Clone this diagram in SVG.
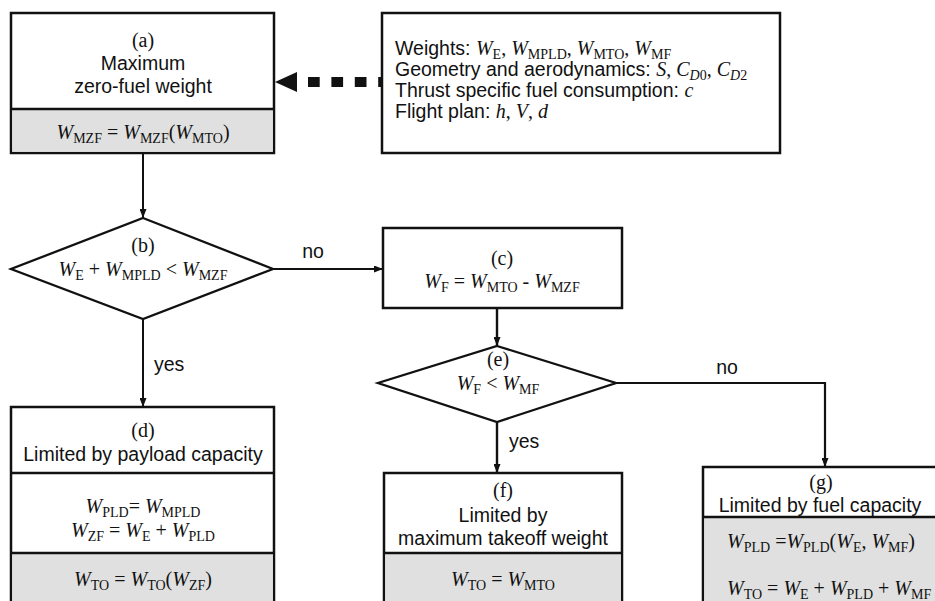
<svg xmlns="http://www.w3.org/2000/svg" width="935" height="601" viewBox="0 0 935 601">
<style>
.t{font-family:"Liberation Sans",Arial,sans-serif;font-size:19.5px;fill:#111}
.m{font-family:"Liberation Serif","Times New Roman",serif;font-size:20px;fill:#111}
.i{font-style:italic}
.s{font-size:14px}
.box{fill:#fff;stroke:#111;stroke-width:2.5}
.gray{fill:#e0e0e0;stroke:none}
.div{stroke:#111;stroke-width:2.5}
.dia{fill:#fff;stroke:#111;stroke-width:2.3}
.c{fill:none;stroke:#111;stroke-width:2}
</style>
<defs>
<marker id="ah" markerUnits="userSpaceOnUse" markerWidth="9" markerHeight="7" refX="9" refY="3.5" orient="auto">
<path d="M0,0 L9,3.5 L0,7 z" fill="#111"/>
</marker>
</defs>
<rect width="935" height="601" fill="#fff"/>

<g id="connectors">
<line class="c" x1="143" y1="153" x2="143" y2="218" marker-end="url(#ah)"/>
<line class="c" x1="273" y1="269" x2="383" y2="269" marker-end="url(#ah)"/>
<line class="c" x1="143" y1="319" x2="143" y2="407" marker-end="url(#ah)"/>
<line class="c" x1="497" y1="308" x2="497" y2="346" marker-end="url(#ah)" style="stroke-width:2.4"/>
<line class="c" x1="497" y1="422" x2="497" y2="473" marker-end="url(#ah)" style="stroke-width:2.4"/>
<polyline class="c" points="616,383 825,383 825,467" marker-end="url(#ah)" style="stroke-width:2.2"/>
<line x1="308" y1="82" x2="382" y2="82" stroke="#111" stroke-width="10" stroke-dasharray="11.7 11.7"/>
<path d="M275,82 L297,72 L297,92 z" fill="#111"/>
<text class="t" x="313" y="258" text-anchor="middle">no</text>
<text class="t" x="154" y="371">yes</text>
<text class="t" x="727" y="374" text-anchor="middle">no</text>
<text class="t" x="509" y="448">yes</text>
</g>

<g id="node-a">
<rect class="box" x="11" y="13" width="263" height="140"/>
<rect class="gray" x="12.25" y="109" width="260.5" height="42.75"/>
<line class="div" x1="11" y1="109" x2="274" y2="109"/>
<text class="m" x="143" y="47" text-anchor="middle">(a)</text>
<text class="t" x="143" y="70" text-anchor="middle">Maximum</text>
<text class="t" x="143" y="93" text-anchor="middle">zero-fuel weight</text>
<text class="m" x="143" y="139" text-anchor="middle"><tspan class="i">W</tspan><tspan class="s" dy="4">MZF</tspan><tspan dy="-4"> = </tspan><tspan class="i">W</tspan><tspan class="s" dy="4">MZF</tspan><tspan dy="-4">(</tspan><tspan class="i">W</tspan><tspan class="s" dy="4">MTO</tspan><tspan dy="-4">)</tspan></text>
</g>

<g id="node-inputs">
<rect class="box" x="382" y="13" width="398" height="140"/>
<text class="t" x="395" y="55">Weights: <tspan class="m i">W</tspan><tspan class="m s" dy="4">E</tspan><tspan class="m" dy="-4">, </tspan><tspan class="m i">W</tspan><tspan class="m s" dy="4">MPLD</tspan><tspan class="m" dy="-4">, </tspan><tspan class="m i">W</tspan><tspan class="m s" dy="4">MTO</tspan><tspan class="m" dy="-4">, </tspan><tspan class="m i">W</tspan><tspan class="m s" dy="4">MF</tspan></text>
<text class="t" x="395" y="76">Geometry and aerodynamics: <tspan class="m i">S</tspan><tspan class="m">, </tspan><tspan class="m i">C</tspan><tspan class="m s i" dy="4">D</tspan><tspan class="m s">0</tspan><tspan class="m" dy="-4">, </tspan><tspan class="m i">C</tspan><tspan class="m s i" dy="4">D</tspan><tspan class="m s">2</tspan></text>
<text class="t" x="395" y="97">Thrust specific fuel consumption: <tspan class="m i">c</tspan></text>
<text class="t" x="395" y="118">Flight plan: <tspan class="m i">h</tspan><tspan class="m">, </tspan><tspan class="m i">V</tspan><tspan class="m">, </tspan><tspan class="m i">d</tspan></text>
</g>

<g id="node-b">
<polygon class="dia" points="143,218 273,269 143,319 11,269"/>
<text class="m" x="143" y="252" text-anchor="middle">(b)</text>
<text class="m" x="143" y="276" text-anchor="middle"><tspan class="i">W</tspan><tspan class="s" dy="4">E</tspan><tspan dy="-4"> + </tspan><tspan class="i">W</tspan><tspan class="s" dy="4">MPLD</tspan><tspan dy="-4"> &lt; </tspan><tspan class="i">W</tspan><tspan class="s" dy="4">MZF</tspan></text>
</g>

<g id="node-c">
<rect class="box" x="383" y="228" width="239" height="80"/>
<text class="m" x="502" y="265" text-anchor="middle">(c)</text>
<text class="m" x="502" y="288" text-anchor="middle"><tspan class="i">W</tspan><tspan class="s" dy="4">F</tspan><tspan dy="-4"> = </tspan><tspan class="i">W</tspan><tspan class="s" dy="4">MTO</tspan><tspan dy="-4"> - </tspan><tspan class="i">W</tspan><tspan class="s" dy="4">MZF</tspan></text>
</g>

<g id="node-e">
<polygon class="dia" points="497,346 616,383 497,422 378,383"/>
<text class="m" x="498" y="366" text-anchor="middle">(e)</text>
<text class="m" x="498" y="390" text-anchor="middle"><tspan class="i">W</tspan><tspan class="s" dy="4">F</tspan><tspan dy="-4"> &lt; </tspan><tspan class="i">W</tspan><tspan class="s" dy="4">MF</tspan></text>
</g>

<g id="node-d">
<rect class="box" x="11" y="407" width="263" height="220"/>
<rect class="gray" x="12.25" y="553" width="260.5" height="60"/>
<line class="div" x1="11" y1="473" x2="274" y2="473"/>
<line class="div" x1="11" y1="553" x2="274" y2="553"/>
<text class="m" x="143" y="437" text-anchor="middle">(d)</text>
<text class="t" x="143" y="461" text-anchor="middle">Limited by payload capacity</text>
<text class="m" x="143" y="513" text-anchor="middle"><tspan class="i">W</tspan><tspan class="s" dy="4">PLD</tspan><tspan dy="-4">= </tspan><tspan class="i">W</tspan><tspan class="s" dy="4">MPLD</tspan></text>
<text class="m" x="143" y="537" text-anchor="middle"><tspan class="i">W</tspan><tspan class="s" dy="4">ZF</tspan><tspan dy="-4"> = </tspan><tspan class="i">W</tspan><tspan class="s" dy="4">E</tspan><tspan dy="-4"> + </tspan><tspan class="i">W</tspan><tspan class="s" dy="4">PLD</tspan></text>
<text class="m" x="143" y="586" text-anchor="middle"><tspan class="i">W</tspan><tspan class="s" dy="4">TO</tspan><tspan dy="-4"> = </tspan><tspan class="i">W</tspan><tspan class="s" dy="4">TO</tspan><tspan dy="-4">(</tspan><tspan class="i">W</tspan><tspan class="s" dy="4">ZF</tspan><tspan dy="-4">)</tspan></text>
</g>

<g id="node-f">
<rect class="box" x="384" y="473" width="238" height="150"/>
<rect class="gray" x="385.25" y="553" width="235.5" height="60"/>
<line class="div" x1="384" y1="553" x2="622" y2="553"/>
<text class="m" x="503" y="497" text-anchor="middle">(f)</text>
<text class="t" x="503" y="522" text-anchor="middle">Limited by</text>
<text class="t" x="503" y="545" text-anchor="middle">maximum takeoff weight</text>
<text class="m" x="503" y="586" text-anchor="middle"><tspan class="i">W</tspan><tspan class="s" dy="4">TO</tspan><tspan dy="-4"> = </tspan><tspan class="i">W</tspan><tspan class="s" dy="4">MTO</tspan></text>
</g>

<g id="node-g">
<rect class="box" x="703" y="467" width="234" height="150"/>
<rect class="gray" x="704.25" y="517" width="231.5" height="90"/>
<line class="div" x1="703" y1="517" x2="937" y2="517"/>
<text class="m" x="821" y="489" text-anchor="middle">(g)</text>
<text class="t" x="820" y="512" text-anchor="middle">Limited by fuel capacity</text>
<text class="m" x="727" y="548"><tspan class="i">W</tspan><tspan class="s" dy="4">PLD</tspan><tspan dy="-4"> =</tspan><tspan class="i">W</tspan><tspan class="s" dy="4">PLD</tspan><tspan dy="-4">(</tspan><tspan class="i">W</tspan><tspan class="s" dy="4">E</tspan><tspan dy="-4">, </tspan><tspan class="i">W</tspan><tspan class="s" dy="4">MF</tspan><tspan dy="-4">)</tspan></text>
<text class="m" x="727" y="595"><tspan class="i">W</tspan><tspan class="s" dy="4">TO</tspan><tspan dy="-4"> = </tspan><tspan class="i">W</tspan><tspan class="s" dy="4">E</tspan><tspan dy="-4"> + </tspan><tspan class="i">W</tspan><tspan class="s" dy="4">PLD</tspan><tspan dy="-4"> + </tspan><tspan class="i">W</tspan><tspan class="s" dy="4">MF</tspan></text>
</g>
</svg>
